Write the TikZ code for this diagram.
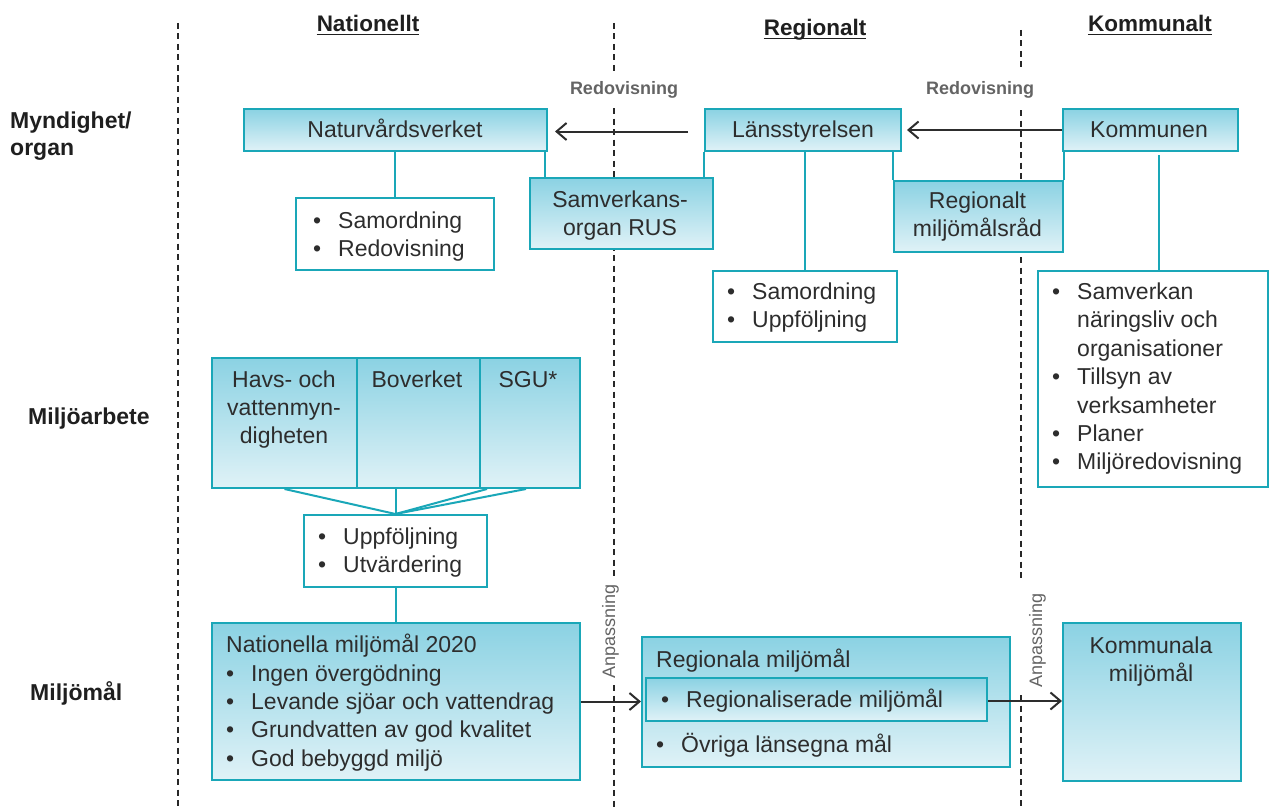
\documentclass[tikz,border=0pt]{standalone}
\usepackage{fontspec}
\setmainfont{Liberation Sans}
\usetikzlibrary{arrows.meta}
\definecolor{boxtop}{RGB}{139,210,227}
\definecolor{boxbot}{RGB}{224,242,247}
\definecolor{tealline}{RGB}{26,167,184}
\definecolor{ink}{RGB}{45,45,45}
\definecolor{labgray}{RGB}{100,100,100}
\definecolor{dashc}{RGB}{40,40,40}
\newcommand{\ctab}[1]{\begin{tabular}[t]{@{}c@{}}#1\end{tabular}}
\newcommand{\ltab}[1]{\begin{tabular}[t]{@{}l@{}}#1\end{tabular}}
\newcommand{\btab}[1]{\begin{tabular}[t]{@{}p{25pt}@{}l@{}}#1\end{tabular}}
\tikzset{
 gbox/.style={draw=tealline, line width=2pt, top color=boxtop, bottom color=boxbot, inner sep=0pt, anchor=north west},
 wbox/.style={draw=tealline, line width=2pt, fill=white, inner sep=0pt, anchor=north west},
 sz/.style 2 args={minimum width=#1, minimum height=#2},
 txt/.style={text=ink, font=\fontsize{23}{28.4}\selectfont, inner sep=0pt},
 rowlab/.style={text=black!88, font=\bfseries\fontsize{23}{27.5}\selectfont, inner sep=0pt, anchor=base west},
 colhead/.style={text=black!88, font=\bfseries\fontsize{22.5}{27}\selectfont, inner sep=0pt, anchor=base},
 redlab/.style={text=labgray, font=\bfseries\fontsize{18}{22}\selectfont, inner sep=0pt, anchor=base},
 anplab/.style={text=labgray, font=\fontsize{18}{22}\selectfont, rotate=90, inner sep=0pt},
 conn/.style={draw=tealline, line width=2pt},
 arr/.style={draw=ink, line width=2pt, -{Straight Barb[length=10pt,width=17pt,line width=2pt]}},
 divider/.style={draw=dashc, line width=1.8pt, dash pattern=on 6pt off 4.5pt},
}
\begin{document}
\begin{tikzpicture}[x=1pt,y=-1pt]
\useasboundingbox (0,0) rectangle (1269,808);
% dividers
\coordinate (d1a) at (178,23); \coordinate (d1b) at (178,808);
\draw[divider] (d1a) -- (d1b);
\coordinate (d2a) at (614,23); \coordinate (d2b) at (614,72);
\coordinate (d2c) at (614,108); \coordinate (d2d) at (614,576);
\coordinate (d2e) at (614,685); \coordinate (d2f) at (614,808);
\draw[divider] (d2a) -- (d2b) (d2c) -- (d2d) (d2e) -- (d2f);
\coordinate (d3a) at (1021,30); \coordinate (d3b) at (1021,72);
\coordinate (d3c) at (1021,110); \coordinate (d3d) at (1021,580);
\coordinate (d3e) at (1021,695); \coordinate (d3f) at (1021,808);
\draw[divider] (d3a) -- (d3b) (d3c) -- (d3d) (d3e) -- (d3f);

% headers
\node[colhead] (h1) at (368,32) {Nationellt};
\node[colhead] (h2) at (815,36) {Regionalt};
\node[colhead] (h3) at (1150,32) {Kommunalt};
\foreach \h in {h1,h2,h3}{
  \draw[black!88, line width=1.6pt] ([yshift=-2.6pt]\h.base west) -- ([yshift=-2.6pt]\h.base east);
}
% row labels
\node[rowlab] (r1) at (10,128) {\ltab{Myndighet/\\organ}};
\node[rowlab] (r2) at (28,424) {Miljöarbete};
\node[rowlab] (r3) at (30,700) {Miljömål};

% labels
\node[redlab] (red1) at (624,95) {Redovisning};
\node[redlab] (red2) at (980,95) {Redovisning};
\node[anplab] (anp1) at (610.5,631.5) {Anpassning};
\node[anplab] (anp2) at (1037.5,640.5) {Anpassning};

% boxes
\node[gbox, sz={303}{42}] (nv) at (243,108) {};
\node[gbox, sz={196}{42}] (ls) at (704,108) {};
\node[gbox, sz={175}{42}] (km) at (1062,108) {};
\node[wbox, sz={198}{72}] (sr) at (295,197) {};
\node[gbox, sz={183}{71}] (rus) at (529,177) {};
\node[gbox, sz={169}{71}] (rmr) at (893,180) {};
\node[wbox, sz={184}{71}] (su) at (712,270) {};
\node[wbox, sz={230}{216}] (kl) at (1037,270) {};
\node[gbox, sz={145}{130}] (hav) at (211,357) {};
\node[gbox, sz={123}{130}] (bov) at (356,357) {};
\node[gbox, sz={100}{130}] (sgu) at (479,357) {};
\node[wbox, sz={183}{72}] (uu) at (303,514) {};
\node[gbox, sz={368}{157}] (nat) at (211,622) {};
\node[gbox, sz={368}{130}] (reg) at (641,636) {};
\node[gbox, sz={341}{43}] (inner) at (645,677) {};
\node[gbox, sz={178}{158}] (kmm) at (1062,622) {};

% connectors
\draw[conn] (sr.north) -- (sr.north |- nv.south);
\draw[conn] ([xshift=-3pt]nv.south east) -- ([xshift=-3pt]nv.south east |- rus.north);
\draw[conn] (ls.south west) -- (ls.south west |- rus.north);
\draw[conn] (su.north) -- (su.north |- ls.south);
\draw[conn] (rmr.north west) -- (rmr.north west |- ls.south);
\draw[conn] (rmr.north east) -- (rmr.north east |- km.south);
\draw[conn] ([xshift=6pt]kl.north) -- ([xshift=6pt,yshift=-3pt]kl.north |- km.south);
\draw[conn] (hav.south) -- (uu.north);
\draw[conn] (uu.north) -- (uu.north |- bov.south);
\draw[conn] ([xshift=8pt]sgu.south west) -- (uu.north);
\draw[conn] ([xshift=-4pt]sgu.south) -- (uu.north);
\draw[conn] (uu.south) -- (uu.south |- nat.north);

% texts
\node[txt, anchor=base] (t1) at (395,137) {Naturvårdsverket};
\node[txt, anchor=base] (t2) at (803,137) {Länsstyrelsen};
\node[txt, anchor=base] (t3) at (1149,137) {Kommunen};
\node[txt, anchor=base west] (t4) at (313,228) {\btab{• & Samordning\\ • & Redovisning}};
\node[txt, anchor=base] (t5) at (620,207) {\ctab{Samverkans-\\organ RUS}};
\node[txt, anchor=base] (t6) at (977.5,208) {\ctab{Regionalt\\miljömålsråd}};
\node[txt, anchor=base west] (t7) at (727,299) {\btab{• & Samordning\\ • & Uppföljning}};
\node[txt, anchor=base west] (t8) at (1052,299.5) {\btab{• & Samverkan\\ & näringsliv och\\ & organisationer\\ • & Tillsyn av\\ & verksamheter\\ • & Planer\\ • & Miljöredovisning}};
\node[txt, anchor=base] (t9) at (284,387) {\ctab{Havs- och\\vattenmyn-\\digheten}};
\node[txt, anchor=base] (t10) at (417,387) {Boverket};
\node[txt, anchor=base] (t11) at (528,387) {SGU*};
\node[txt, anchor=base west] (t12) at (318,544) {\btab{• & Uppföljning\\ • & Utvärdering}};
\node[txt, anchor=base west] (t13) at (226,652) {Nationella miljömål 2020};
\node[txt, anchor=base west] (t14) at (226,681) {\btab{• & Ingen övergödning\\ • & Levande sjöar och vattendrag\\ • & Grundvatten av god kvalitet\\ • & God bebyggd miljö}};
\node[txt, anchor=base west] (t15) at (656,667) {Regionala miljömål};
\node[txt, anchor=base west] (t16) at (661,707) {\btab{• & Regionaliserade miljömål}};
\node[txt, anchor=base west] (t17) at (656,752) {\btab{• & Övriga länsegna mål}};
\node[txt, anchor=base] (t18) at (1151,653) {\ctab{Kommunala\\miljömål}};

% arrows
\draw[arr, shorten <=16pt, shorten >=7pt] ([yshift=-1.5pt]ls.west) -- ([yshift=-1.5pt]nv.east);
\draw[arr, shorten >=5pt] (km.west) -- (ls.east);
\draw[arr] (nat.east) -- (nat.east -| reg.west);
\draw[arr] ([yshift=-1.5pt]inner.east) -- ([yshift=-1.5pt]inner.east -| kmm.west);
\end{tikzpicture}
\end{document}
